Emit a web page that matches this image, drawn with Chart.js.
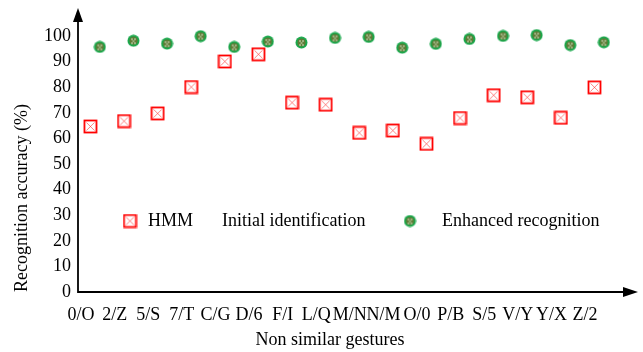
<!DOCTYPE html>
<html>
<head>
<meta charset="utf-8">
<script src="https://cdn.jsdelivr.net/npm/chart.js@4"></script>
<style>
  html, body { margin: 0; padding: 0; background: #fff; }
  #wrap { width: 643px; height: 352px; }
</style>
</head>
<body>
<div id="wrap"><canvas id="myChart" width="643" height="352"></canvas></div>
<script>
// Data

const categories = ['0/O', '2/Z', '5/S', '7/T', 'C/G', 'D/6', 'F/I', 'L/Q', 'M/N', 'N/M', 'O/0', 'P/B', 'S/5', 'V/Y', 'Y/X', 'Z/2'];
const hmm = [64.7, 66.8, 69.8, 80.1, 90.1, 92.9, 74.0, 73.2, 62.2, 63.1, 57.9, 68.0, 76.9, 76.1, 68.1, 80.0];
const initial = [];
const enhanced = [95.8, 98.2, 97.1, 100.0, 95.8, 97.9, 97.5, 99.3, 99.7, 95.5, 97.0, 98.9, 100.1, 100.4, 96.5, 97.6];
const yTicks = [0, 10, 20, 30, 40, 50, 60, 70, 80, 90, 100];

const FONT = "'Liberation Serif', 'Times New Roman', serif";

// Marker images

function squareMarker() {
    const c = document.createElement('canvas');
    c.width = 15; c.height = 15;
    const g = c.getContext('2d');
    g.strokeStyle = 'rgba(255,0,0,0.55)';
    g.lineWidth = 0.9;
    g.beginPath();
    g.moveTo(3.5, 3.5); g.lineTo(11.5, 11.5);
    g.moveTo(11.5, 3.5); g.lineTo(3.5, 11.5);
    g.stroke();
    g.strokeStyle = '#ff0000';
    g.lineWidth = 1.8;
    g.strokeRect(1.5, 1.5, 12, 12);
    return c;
}

function circleMarker() {
    const c = document.createElement('canvas');
    c.width = 13; c.height = 13;
    const g = c.getContext('2d');
    g.fillStyle = '#1aa84c';
    g.beginPath(); g.arc(6.5, 6.5, 6, 0, Math.PI * 2); g.fill();
    g.fillStyle = '#5f7b35';
    g.beginPath(); g.arc(6.5, 6.5, 4, 0, Math.PI * 2); g.fill();
    g.fillStyle = 'rgba(230,240,220,0.9)';
    g.fillRect(4, 4.5, 2, 1);
    g.fillRect(7, 4.5, 2, 1);
    g.fillRect(5.5, 6.5, 2, 1);
    g.fillRect(4, 8.5, 2, 1);
    g.fillRect(7, 8.5, 2, 1);
    return c;
}

const redMark = squareMarker();
const greenMark = circleMarker();

// Axes with arrows, titles and legend drawn on the canvas

const axesPlugin = {
    id: 'axesPlugin',
    afterDraw(chart) {
        const ctx = chart.ctx;
        const a = chart.chartArea;
        const y0 = chart.scales.y.getPixelForValue(0);
        ctx.save();
        ctx.strokeStyle = '#000';
        ctx.fillStyle = '#000';
        ctx.lineWidth = 1.8;
        // y axis
        ctx.beginPath();
        ctx.moveTo(a.left, y0 + 1);
        ctx.lineTo(a.left, a.top + 12);
        ctx.stroke();
        ctx.beginPath();
        ctx.moveTo(a.left, a.top);
        ctx.lineTo(a.left - 5, a.top + 14);
        ctx.lineTo(a.left + 5, a.top + 14);
        ctx.closePath();
        ctx.fill();
        // x axis
        ctx.beginPath();
        ctx.moveTo(a.left, y0);
        ctx.lineTo(a.right + 2, y0);
        ctx.stroke();
        ctx.beginPath();
        ctx.moveTo(a.right + 16, y0);
        ctx.lineTo(a.right + 1, y0 - 5);
        ctx.lineTo(a.right + 1, y0 + 5);
        ctx.closePath();
        ctx.fill();

        // titles
        ctx.font = '18px ' + FONT;
        ctx.textBaseline = 'middle';
        ctx.textAlign = 'center';
        ctx.fillText('Non similar gestures', 330, 340);
        ctx.save();
        ctx.translate(22, y0);
        ctx.rotate(-Math.PI / 2);
        ctx.textAlign = 'left';
        ctx.fillText('Recognition accuracy (%)', 0, 0);
        ctx.restore();

        // legend
        const ly = 221;
        const items = [
            { img: redMark, mx: 130, tx: 148, text: chart.data.datasets[0].label },
            { img: null, mx: 0, tx: 222, text: chart.data.datasets[1].label },
            { img: greenMark, mx: 410, tx: 442, text: chart.data.datasets[2].label }
        ];
        ctx.textAlign = 'left';
        items.forEach(it => {
            if (it.img) {
                ctx.drawImage(it.img, it.mx - it.img.width / 2, ly - it.img.height / 2);
            }
            ctx.fillText(it.text, it.tx, ly);
        });
        ctx.restore();
    }
};

window.onload = function () {
    const ctx = document.getElementById('myChart').getContext('2d');

    new Chart(ctx, {
        type: 'scatter',
        data: {
            datasets: [
                {
                    label: 'HMM',
                    data: hmm.map((v, i) => ({ x: i + 0.28, y: v })),
                    pointStyle: redMark,
                    pointRadius: 7
                },
                {
                    label: 'Initial identification',
                    data: initial.map((v, i) => ({ x: i + 0.42, y: v })),
                    pointRadius: 0
                },
                {
                    label: 'Enhanced recognition',
                    data: enhanced.map((v, i) => ({ x: i + 0.56, y: v })),
                    pointStyle: greenMark,
                    pointRadius: 6
                }
            ]
        },
        options: {
            responsive: false,
            animation: false,
            layout: { padding: { top: 8, right: 21, left: 0, bottom: 0 } },
            plugins: {
                legend: { display: false },
                tooltip: { enabled: false }
            },
            scales: {
                x: {
                    type: 'linear',
                    min: -0.09,
                    max: 16.1,
                    grid: { display: false, drawTicks: false },
                    border: { display: false },
                    afterBuildTicks: (scale) => {
                        scale.ticks = categories.map((c, i) => ({ value: i }));
                    },
                    afterFit: (scale) => {
                        scale.height = 60;
                        scale.paddingLeft = 0;
                        scale.paddingRight = 0;
                    },
                    ticks: {
                        autoSkip: false,
                        maxRotation: 0,
                        padding: 12,
                        color: '#000',
                        font: { family: FONT, size: 18 },
                        callback: (v) => categories[v]
                    }
                },
                y: {
                    min: 0,
                    max: 111,
                    grid: { display: false, drawTicks: false },
                    border: { display: false },
                    afterBuildTicks: (scale) => {
                        scale.ticks = yTicks.map(v => ({ value: v }));
                    },
                    afterFit: (scale) => {
                        scale.width = 78;
                        scale.paddingTop = 0;
                        scale.paddingBottom = 0;
                    },
                    ticks: {
                        padding: 7,
                        color: '#000',
                        font: { family: FONT, size: 18 }
                    }
                }
            }
        },
        plugins: [axesPlugin]
    });
};
</script>
</body>
</html>
